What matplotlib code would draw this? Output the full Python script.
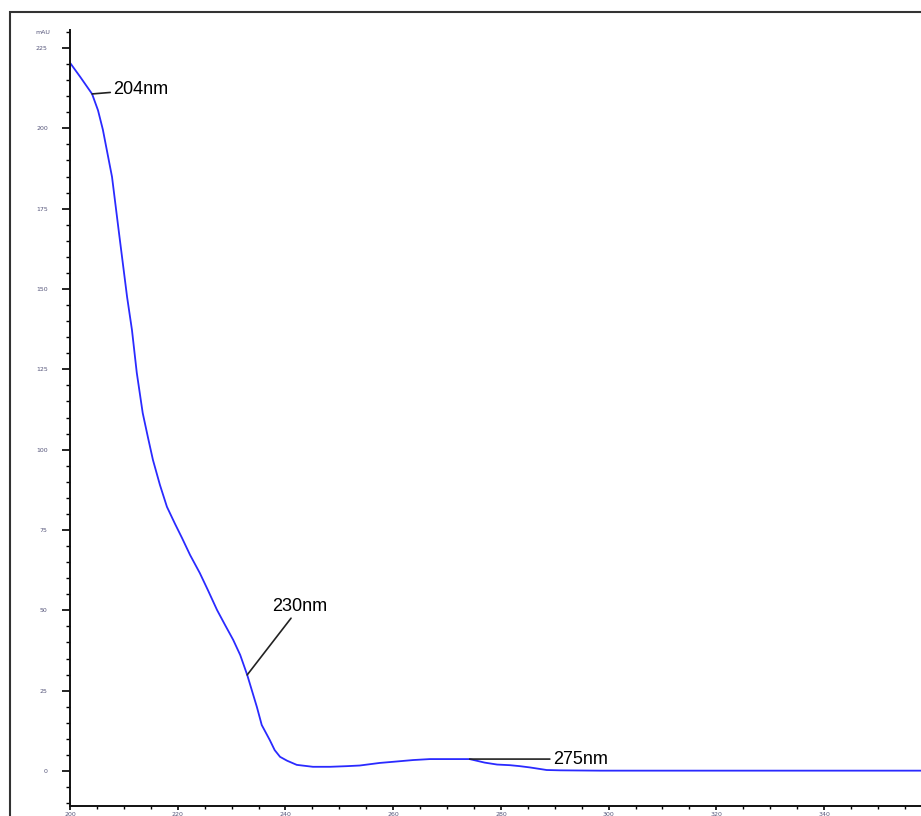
import numpy as np
import matplotlib
matplotlib.use("Agg")
from matplotlib import pyplot as plt
from matplotlib.patches import Rectangle
from matplotlib.ticker import MultipleLocator

# UV spectrum (wavelength nm, absorbance mAU)
wavelength = [200.0, 201.9, 204.1, 205.2, 206.1, 207.8, 209.1, 210.6, 211.5,
              212.4, 213.5, 214.5, 215.4, 216.7, 218.0, 219.5, 220.8, 222.3,
              224.1, 225.6, 227.3, 228.8, 230.3, 231.6, 232.9, 234.7, 235.6,
              237.1, 238.0, 239.0, 240.3, 242.1, 243.6, 245.1, 248.3, 251.4,
              253.8, 257.5, 260.3, 263.7, 266.8, 268.7, 271.5, 274.2, 277.0,
              279.3, 281.7, 283.5, 285.4, 288.5, 291.0, 298.4, 320.0, 340.0,
              358.0]
absorbance = [220.4, 216.0, 210.7, 205.6, 199.6, 184.9, 167.4, 147.5, 137.3,
              123.9, 111.4, 103.6, 96.8, 89.0, 82.2, 76.9, 72.5, 67.2,
              61.6, 56.3, 50.1, 45.4, 40.8, 36.1, 29.9, 19.9, 14.3,
              9.6, 6.5, 4.4, 3.2, 1.9, 1.6, 1.3, 1.3, 1.5,
              1.7, 2.5, 2.9, 3.4, 3.7, 3.7, 3.7, 3.7, 2.6,
              2.0, 1.8, 1.5, 1.1, 0.3, 0.2, 0.1, 0.1, 0.1,
              0.1]

peak_nm = [204.1, 232.9, 274.2]
peak_labels = ["204nm", "230nm", "275nm"]
label_offsets = [(21, 4), (25, 68), (83, 0)]  # pixels


def main():
    fig = plt.figure(figsize=(9.21, 8.16), dpi=100)

    # outer frame of the report page (cropped on right/bottom)
    fig.add_artist(Rectangle((10 / 921, -0.1), 1.2, 1.1 - 12 / 816,
                             transform=fig.transFigure, fill=False,
                             edgecolor="#333333", lw=1.5))

    ax = fig.add_axes([70 / 921, 10 / 816, 851 / 921, 776 / 816])
    ax.plot(wavelength, absorbance, color="#2a2aff", lw=1.3)

    ax.set_xlim(200, 358)
    ax.set_ylim(-10.9, 230.6)
    for s in ["top", "right"]:
        ax.spines[s].set_visible(False)
    for s in ["left", "bottom"]:
        ax.spines[s].set_linewidth(1.4)
        ax.spines[s].set_color("#111111")

    ax.yaxis.set_major_locator(MultipleLocator(25))
    ax.yaxis.set_minor_locator(MultipleLocator(5))
    ax.xaxis.set_major_locator(MultipleLocator(20))
    ax.xaxis.set_minor_locator(MultipleLocator(5))
    ax.tick_params(axis="y", which="major", length=6, width=1.2, pad=10,
                   labelsize=4.5, labelcolor="#55557a")
    ax.tick_params(axis="y", which="minor", length=3, width=1.0)
    ax.tick_params(axis="x", which="major", length=3, width=1.2, pad=1,
                   labelsize=4.5, labelcolor="#55557a")
    ax.tick_params(axis="x", which="minor", length=2, width=1.0)

    fig.text(35 / 921, 1 - 33 / 816, "mAU", fontsize=4.5, color="#55557a",
             ha="left", va="center")

    for nm, lab, (dx, dy) in zip(peak_nm, peak_labels, label_offsets):
        y = np.interp(nm, wavelength, absorbance)
        ax.annotate(lab, xy=(nm, y), xytext=(dx, dy),
                    textcoords="offset pixels", ha="left", va="center",
                    fontsize=13, family="Liberation Sans", color="black",
                    arrowprops=dict(arrowstyle="-", color="#222222", lw=1.2,
                                    shrinkA=0, shrinkB=0))

    fig.savefig("out.png", dpi=100)


if __name__ == "__main__":
    main()
